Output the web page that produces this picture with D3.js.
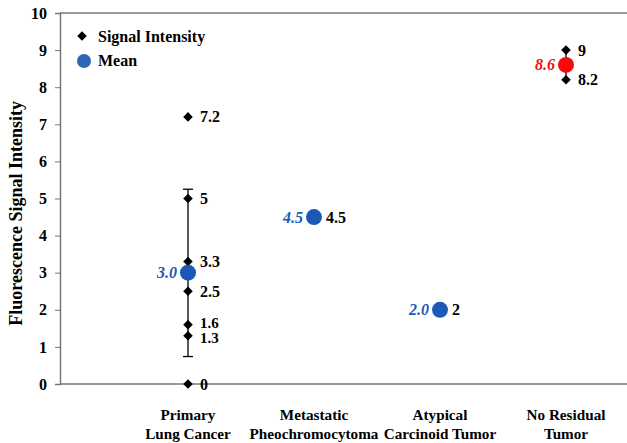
<!DOCTYPE html>
<html><head><meta charset="utf-8">
<script src="https://cdn.jsdelivr.net/npm/d3@7"></script>
<style>body{margin:0;background:#fff}svg{display:block}text{font-family:"Liberation Serif","Times New Roman",serif;font-weight:bold}</style>
</head><body><svg id="c" width="627" height="443"></svg>
<script>
const categories = [["Primary","Lung Cancer"],["Metastatic","Pheochromocytoma"],["Atypical","Carcinoid Tumor"],["No Residual","Tumor"]];
const signalValues = [[7.2,5,3.3,2.5,1.6,1.3,0],[4.5],[2],[9,8.2]];
const signalLabels = [["7.2","5","3.3","2.5","1.6","1.3","0"],["4.5"],["2"],["9","8.2"]];
const means = [3.0,4.5,2.0,8.6];
const meanLabels = ["3.0","4.5","2.0","8.6"];
const errLow = [0.74,null,null,8.2];
const errHigh = [5.25,null,null,9.0];
const yTicks = [0,1,2,3,4,5,6,7,8,9,10];

const svg = d3.select("#c");
const x = d3.scaleLinear().domain([0,4.5]).range([62,629]);
const y = d3.scaleLinear().domain([0,10]).range([384,13]);
const blue = "#1c58b5", red = "#f50a0a";
const FS = 16;

svg.append("line").attr("x1",60).attr("x2",627).attr("y1",y(10)).attr("y2",y(10)).attr("stroke","#777").attr("stroke-width",1.5);
const yAxis = svg.append("g").attr("transform","translate(60,0)")
  .call(d3.axisLeft(y).tickValues(yTicks).tickSize(5).tickFormat(d3.format("d")));
yAxis.select(".domain").attr("stroke","#777").attr("stroke-width",1.5);
yAxis.selectAll(".tick line").attr("stroke","#777");
yAxis.selectAll(".tick text").attr("font-size",FS).attr("fill","#000").attr("x",-13)
  .style("font-family",'"Liberation Serif",serif').style("font-weight","bold");
svg.append("line").attr("x1",60).attr("x2",627).attr("y1",y(0)).attr("y2",y(0)).attr("stroke","#777").attr("stroke-width",1.5);

svg.append("text").attr("transform",`translate(22,${y(4.6)}) rotate(-90)`).attr("text-anchor","middle")
  .attr("font-size",18).text("Fluorescence Signal Intensity");

categories.forEach((c,i)=>{
  const t = svg.append("text").attr("x",x(i+1)).attr("y",420).attr("text-anchor","middle").attr("font-size",15.2);
  t.append("tspan").attr("x",x(i+1)).text(c[0]);
  t.append("tspan").attr("x",x(i+1)).attr("dy",19).text(c[1]);
});

const g = svg.append("g");
means.forEach((m,i)=>{
  if(errLow[i]==null) return;
  const cx = x(i+1);
  g.append("line").attr("x1",cx).attr("x2",cx).attr("y1",y(errLow[i])).attr("y2",y(errHigh[i])).attr("stroke","#000").attr("stroke-width",1.3);
  if(i===0){
    [errLow[i],errHigh[i]].forEach(v=>g.append("line").attr("x1",cx-5).attr("x2",cx+5).attr("y1",y(v)).attr("y2",y(v)).attr("stroke","#000").attr("stroke-width",1.3));
  }
});

const diamond = d3.symbol().type(d3.symbolSquare).size(46);
signalValues.forEach((vals,i)=>{
  vals.forEach(v=>{
    g.append("path").attr("d",diamond).attr("transform",`translate(${x(i+1)},${y(v)}) rotate(45)`).attr("fill","#000");
  });
});
means.forEach((m,i)=>{
  g.append("circle").attr("cx",x(i+1)).attr("cy",y(m)).attr("r",8).attr("fill",i===3?red:blue);
  g.append("text").attr("x",x(i+1)-11).attr("y",y(m)+5.5).attr("text-anchor","end").attr("font-size",FS)
    .attr("font-style","italic").attr("fill",i===3?red:blue).text(meanLabels[i]);
});
signalValues.forEach((vals,i)=>{
  vals.forEach((v,j)=>{
    const off = (i===0 && v===1.6)? -2 : (i===0 && v===1.3) ? 2 : 0;
    g.append("text").attr("x",x(i+1)+12).attr("y",y(v)+5.5+off).attr("font-size",i===0&&(v===1.6||v===1.3)?15:FS).attr("fill","#000").text(signalLabels[i][j]);
  });
});

svg.append("path").attr("d",diamond).attr("transform","translate(82,36) rotate(45)").attr("fill","#000");
svg.append("text").attr("x",98).attr("y",41.5).attr("font-size",FS).text("Signal Intensity");
svg.append("circle").attr("cx",84).attr("cy",61).attr("r",7).attr("fill","#2f66b6");
svg.append("text").attr("x",98).attr("y",65.5).attr("font-size",FS).text("Mean");
</script></body></html>
